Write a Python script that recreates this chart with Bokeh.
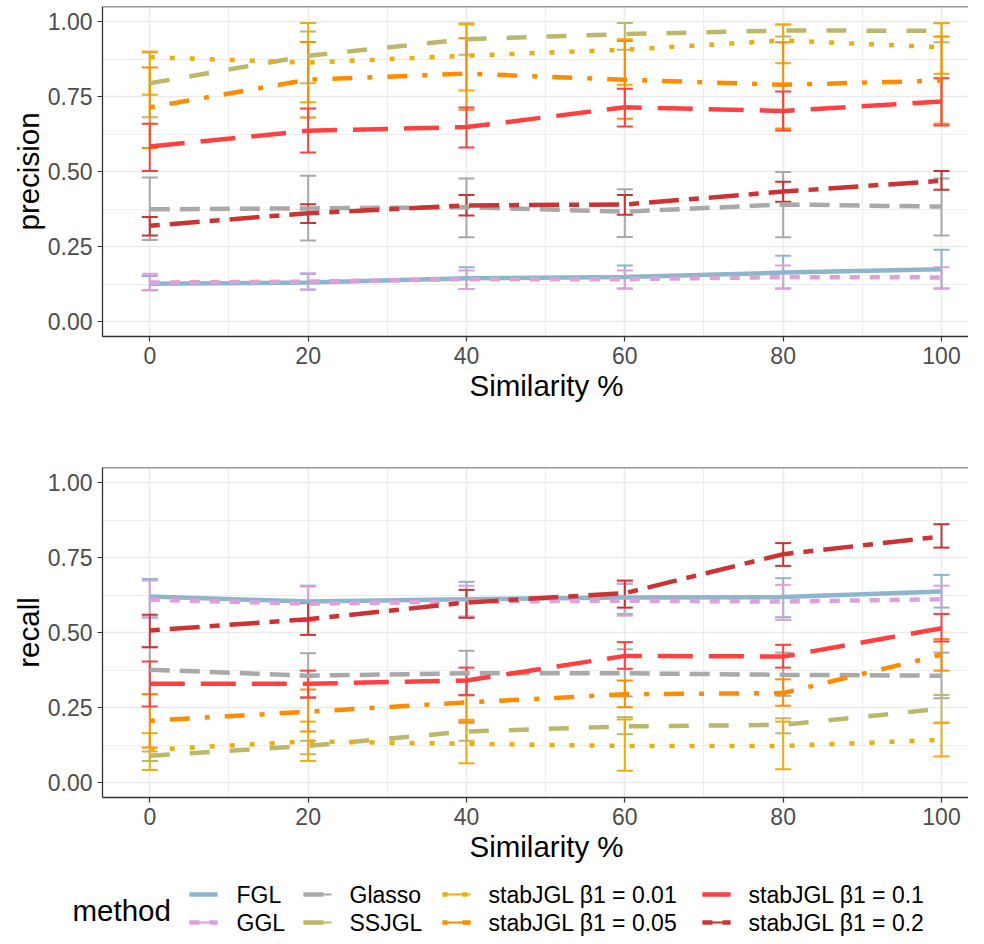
from bokeh.plotting import figure
from bokeh.models import (ColumnDataSource, Whisker, TeeHead, FixedTicker, Range1d,
                          Span, NumeralTickFormatter, Title)
from bokeh.layouts import column, row
from bokeh.embed import file_html
from bokeh.resources import INLINE
from bokeh.core.properties import value

# ---------------- data ----------------
similarity = [0, 20, 40, 60, 80, 100]
x_minor = [10, 30, 50, 70, 90]
y_ticks = [0.0, 0.25, 0.5, 0.75, 1.0]
y_minor = [0.125, 0.375, 0.625, 0.875]

methods = ["FGL", "GGL", "Glasso", "SSJGL",
           "stabJGL β1 = 0.01", "stabJGL β1 = 0.05", "stabJGL β1 = 0.1", "stabJGL β1 = 0.2"]

# precision
fgl_prec = [0.126, 0.130, 0.144, 0.148, 0.163, 0.174]
fgl_prec_lo = [0.105, 0.107, 0.108, 0.110, 0.110, 0.110]
fgl_prec_hi = [0.152, 0.158, 0.181, 0.187, 0.219, 0.239]
ggl_prec = [0.130, 0.133, 0.141, 0.141, 0.148, 0.147]
ggl_prec_lo = [0.103, 0.106, 0.108, 0.110, 0.110, 0.110]
ggl_prec_hi = [0.159, 0.161, 0.170, 0.170, 0.187, 0.181]
glasso_prec = [0.374, 0.377, 0.381, 0.366, 0.390, 0.383]
glasso_prec_lo = [0.272, 0.270, 0.281, 0.282, 0.281, 0.287]
glasso_prec_hi = [0.480, 0.486, 0.477, 0.441, 0.498, 0.477]
ssjgl_prec = [0.794, 0.886, 0.941, 0.958, 0.970, 0.969]
ssjgl_prec_lo = [0.681, 0.794, 0.889, 0.906, 0.950, 0.931]
ssjgl_prec_hi = [0.897, 0.967, 0.994, 0.995, 0.990, 0.995]
b001_prec = [0.881, 0.863, 0.886, 0.906, 0.937, 0.914]
b001_prec_lo = [0.756, 0.731, 0.770, 0.789, 0.861, 0.826]
b001_prec_hi = [0.900, 0.995, 0.990, 0.941, 0.990, 0.994]
b005_prec = [0.714, 0.806, 0.826, 0.806, 0.789, 0.803]
b005_prec_lo = [0.578, 0.680, 0.706, 0.676, 0.643, 0.659]
b005_prec_hi = [0.847, 0.932, 0.944, 0.935, 0.931, 0.950]
b01_prec = [0.583, 0.636, 0.648, 0.714, 0.702, 0.733]
b01_prec_lo = [0.502, 0.563, 0.580, 0.650, 0.637, 0.653]
b01_prec_hi = [0.659, 0.710, 0.713, 0.776, 0.767, 0.811]
b02_prec = [0.319, 0.361, 0.387, 0.390, 0.433, 0.469]
b02_prec_lo = [0.287, 0.328, 0.353, 0.356, 0.399, 0.439]
b02_prec_hi = [0.348, 0.391, 0.422, 0.422, 0.466, 0.502]

# recall
fgl_rec = [0.620, 0.603, 0.611, 0.617, 0.618, 0.637]
fgl_rec_lo = [0.551, 0.542, 0.553, 0.562, 0.551, 0.583]
fgl_rec_hi = [0.678, 0.656, 0.669, 0.662, 0.681, 0.692]
ggl_rec = [0.609, 0.596, 0.603, 0.606, 0.603, 0.611]
ggl_rec_lo = [0.549, 0.537, 0.553, 0.556, 0.542, 0.562]
ggl_rec_hi = [0.673, 0.653, 0.656, 0.664, 0.659, 0.656]
glasso_rec = [0.376, 0.356, 0.364, 0.364, 0.359, 0.356]
glasso_rec_lo = [0.294, 0.281, 0.290, 0.287, 0.289, 0.281]
glasso_rec_hi = [0.451, 0.431, 0.439, 0.444, 0.433, 0.433]
ssjgl_rec = [0.089, 0.122, 0.170, 0.187, 0.192, 0.246]
ssjgl_rec_lo = [0.072, 0.094, 0.139, 0.161, 0.164, 0.198]
ssjgl_rec_hi = [0.103, 0.139, 0.198, 0.218, 0.214, 0.292]
b001_rec = [0.109, 0.137, 0.129, 0.122, 0.122, 0.142]
b001_rec_lo = [0.042, 0.072, 0.064, 0.039, 0.044, 0.087]
b001_rec_hi = [0.164, 0.203, 0.209, 0.210, 0.203, 0.200]
b005_rec = [0.206, 0.236, 0.267, 0.294, 0.298, 0.426]
b005_rec_lo = [0.117, 0.170, 0.203, 0.251, 0.256, 0.373]
b005_rec_hi = [0.294, 0.310, 0.340, 0.340, 0.344, 0.478]
b01_rec = [0.329, 0.329, 0.340, 0.422, 0.420, 0.514]
b01_rec_lo = [0.253, 0.284, 0.292, 0.379, 0.383, 0.470]
b01_rec_hi = [0.403, 0.373, 0.383, 0.468, 0.459, 0.562]
b02_rec = [0.507, 0.544, 0.600, 0.631, 0.761, 0.820]
b02_rec_lo = [0.451, 0.492, 0.549, 0.583, 0.722, 0.783]
b02_rec_hi = [0.559, 0.598, 0.642, 0.673, 0.798, 0.861]

prec_means = [fgl_prec, ggl_prec, glasso_prec, ssjgl_prec, b001_prec, b005_prec, b01_prec, b02_prec]
prec_los = [fgl_prec_lo, ggl_prec_lo, glasso_prec_lo, ssjgl_prec_lo, b001_prec_lo, b005_prec_lo, b01_prec_lo, b02_prec_lo]
prec_his = [fgl_prec_hi, ggl_prec_hi, glasso_prec_hi, ssjgl_prec_hi, b001_prec_hi, b005_prec_hi, b01_prec_hi, b02_prec_hi]
rec_means = [fgl_rec, ggl_rec, glasso_rec, ssjgl_rec, b001_rec, b005_rec, b01_rec, b02_rec]
rec_los = [fgl_rec_lo, ggl_rec_lo, glasso_rec_lo, ssjgl_rec_lo, b001_rec_lo, b005_rec_lo, b01_rec_lo, b02_rec_lo]
rec_his = [fgl_rec_hi, ggl_rec_hi, glasso_rec_hi, ssjgl_rec_hi, b001_rec_hi, b005_rec_hi, b01_rec_hi, b02_rec_hi]

# ---------------- styles ----------------
FONT = "Liberation Sans"
colors = ["#8DB6CD", "#DDA0DD", "#A9A9A9", "#BDB76B", "#EEAD0E", "#FF8C00", "#FF4040", "#CD3333"]
dashes = ["solid", "10 10", "20 10", "20 20", "5 15", "5 15 20 15", "35 16", "10 10 30 10"]
LINE_W = 4.5
BAR_W = 2
CAP = 16
BORDER = "#333333"
TOTAL_W = 968
LEFT = 102
FRAME_W = TOTAL_W - LEFT
PX_PER_UNIT = 7.917
X0 = -47.3 / PX_PER_UNIT
XTITLE_OFFSET = 367


def make_panel(ylabel, means, los, his, top_border, bottom_border):
    p = figure(frame_width=FRAME_W, frame_height=330,
               min_border_left=LEFT, min_border_right=0,
               min_border_top=top_border, min_border_bottom=bottom_border,
               x_range=Range1d(X0, X0 + FRAME_W / PX_PER_UNIT), y_range=Range1d(-0.05, 1.05),
               output_backend="svg", toolbar_location=None, tools="")
    p.outline_line_color = None
    p.background_fill_color = "white"
    p.border_fill_color = "white"

    p.xaxis.ticker = FixedTicker(ticks=similarity, minor_ticks=x_minor)
    p.yaxis.ticker = FixedTicker(ticks=y_ticks, minor_ticks=y_minor)
    p.yaxis.formatter = NumeralTickFormatter(format="0.00")

    for g in (p.xgrid[0], p.ygrid[0]):
        g.grid_line_color = "#EBEBEB"
        g.grid_line_width = 1.6
        g.minor_grid_line_color = "#EBEBEB"
        g.minor_grid_line_width = 0.9

    for ax in (p.xaxis[0], p.yaxis[0]):
        ax.axis_line_color = BORDER
        ax.axis_line_width = 1.3
        ax.major_tick_line_color = BORDER
        ax.major_tick_line_width = 1.2
        ax.major_tick_in = 0
        ax.major_tick_out = 5
        ax.minor_tick_line_color = None
        ax.major_label_text_font = FONT
        ax.major_label_text_font_size = "23px"
        ax.major_label_text_color = "#4D4D4D"
        ax.axis_label_text_font = FONT
        ax.axis_label_text_font_size = "29.5px"
        ax.axis_label_text_font_style = "normal"
        ax.axis_label_text_color = "black"

    p.xaxis.major_label_standoff = 5
    p.yaxis.axis_label = ylabel
    p.yaxis.major_label_standoff = 5
    p.yaxis.axis_label_standoff = 0

    # x axis title (positioned like the reference's, which is centred on a wider panel)
    p.add_layout(Title(text="Similarity %", align="left", offset=XTITLE_OFFSET, standoff=0,
                       text_font=FONT, text_font_size="29.5px", text_font_style="normal",
                       text_color="black"), "below")

    p.add_layout(Span(location=1.05, dimension="width", line_color=BORDER, line_width=1.3))

    for i in range(len(methods)):
        src = ColumnDataSource(dict(x=similarity, y=means[i], lo=los[i], hi=his[i]))
        p.line("x", "y", source=src, line_color=colors[i], line_width=LINE_W,
               line_dash=dashes[i])
        w = Whisker(base="x", upper="hi", lower="lo", source=src,
                    line_color=colors[i], line_width=BAR_W,
                    upper_head=TeeHead(size=CAP, line_color=colors[i], line_width=BAR_W),
                    lower_head=TeeHead(size=CAP, line_color=colors[i], line_width=BAR_W))
        p.add_layout(w)
    return p


p1 = make_panel("precision", prec_means, prec_los, prec_his, 6, 127)
p2 = make_panel("recall", rec_means, rec_los, rec_his, 4, 72)

# ---------------- legend ----------------
LG_H = 67
lg = figure(frame_width=TOTAL_W, frame_height=LG_H,
            x_range=Range1d(0, TOTAL_W), y_range=Range1d(LG_H, 0),
            min_border=0, min_border_left=0, min_border_right=0,
            min_border_top=0, min_border_bottom=0,
            output_backend="svg", toolbar_location=None, tools="",
            x_axis_location=None, y_axis_location=None)
lg.grid.visible = False
lg.outline_line_color = None

key_x = [189, 303, 442, 702]
text_x = [236, 349, 488, 748]
row_y = [25, 53]
KEY_LEN = 28

for i, name in enumerate(methods):
    c, r = divmod(i, 2)
    x0 = key_x[c]
    y = row_y[r]
    lg.line([x0, x0 + KEY_LEN], [y, y], line_color=colors[i], line_width=BAR_W)
    lg.line([x0, x0 + KEY_LEN], [y, y], line_color=colors[i], line_width=LINE_W,
            line_dash=dashes[i])
    lg.text(x=[text_x[c]], y=[y], text=[name], text_font=value(FONT), text_font_size="23px",
            text_baseline="middle", text_align="left", text_color="black")

lg.text(x=[72], y=[(row_y[0] + row_y[1]) / 2 + 2], text=["method"], text_font=value(FONT),
        text_font_size="29.5px", text_baseline="middle", text_align="left", text_color="black")

layout = column(p1, p2, row(lg), spacing=0)

with open("out.html", "w") as f:
    f.write(file_html(layout, INLINE))
